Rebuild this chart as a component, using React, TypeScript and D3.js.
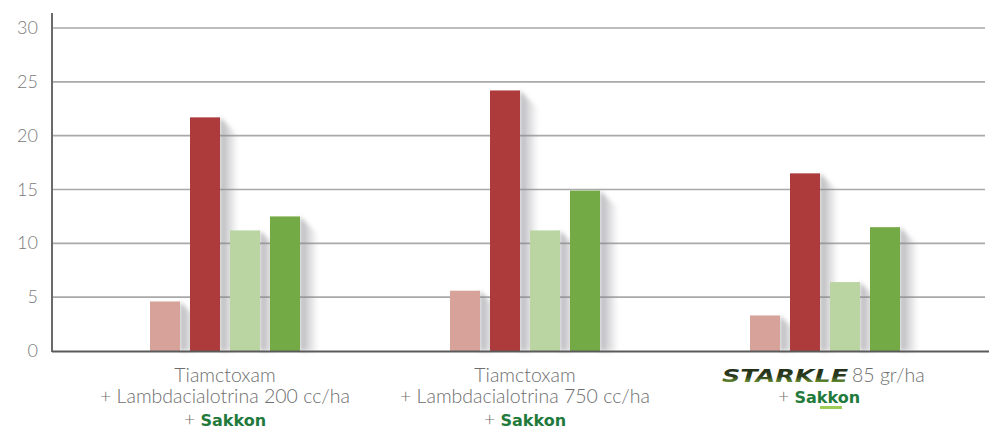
import React from "react";
import * as d3 from "d3";

const groups = ["g1", "g2", "g3"];
const series = ["s1", "s2", "s3", "s4"];
const seriesColors = ["#d6a299", "#ae3b3b", "#bad4a2", "#74aa45"];
const values: number[][] = [
  [4.6, 21.7, 11.2, 12.5],
  [5.6, 24.2, 11.2, 14.9],
  [3.3, 16.5, 6.4, 11.5],
];
const yTicks = [0, 5, 10, 15, 20, 25, 30];

const W = 989;
const H = 430;
const axisX = 52;

export default function App() {
  const y = d3.scaleLinear().domain([0, 30]).range([351, 28]);
  const x0 = d3.scaleBand<string>().domain(groups).range([75, 975]).paddingInner(0).paddingOuter(0);
  const x1 = d3.scaleBand<string>().domain(series).range([75, 225]).paddingInner(0.25).paddingOuter(0);
  const bw = x1.bandwidth();
  const labelFont = "Lato, 'Open Sans', sans-serif";
  const sakkon = (
    <tspan fill="#1f7a3c" fontWeight={900} fontFamily="'DejaVu Sans', sans-serif" fontSize={16}>Sakkon</tspan>
  );
  return (
    <svg width={W} height={H} style={{ position: "absolute", left: 0, top: 0, background: "#fff" }}>
      <defs>
        <linearGradient id="shadowGrad" x1="0" x2="1" y1="0" y2="0">
          <stop offset="0" stopColor="#85858c" stopOpacity="0.6" />
          <stop offset="1" stopColor="#85858c" stopOpacity="0" />
        </linearGradient>
        <filter id="blur" x="-20%" y="-20%" width="140%" height="140%">
          <feGaussianBlur stdDeviation="2" />
        </filter>
        <linearGradient id="starkle" x1="0" x2="0" y1="0" y2="1">
          <stop offset="0" stopColor="#1c2a16" />
          <stop offset="0.55" stopColor="#2d3d1e" />
          <stop offset="1" stopColor="#8cc63f" />
        </linearGradient>
      </defs>
      {yTicks.filter((t) => t > 0).map((t) => (
        <line key={t} x1={axisX} x2={985} y1={y(t)} y2={y(t)} stroke="#a9a9a9" strokeWidth={1.6} />
      ))}
      {yTicks.map((t) => (
        <text key={"l" + t} x={38} y={y(t) + 6} textAnchor="end" fontFamily={labelFont} fontSize={18} fontWeight={300} fill="#7a7a7a">
          {t}
        </text>
      ))}
      {groups.map((g, gi) =>
        series.map((s, si) => {
          const bx = (x0(g) as number) + (x1(s) as number);
          const top = y(values[gi][si]);
          const base = y(0);
          const d = 18;
          return (
            <polygon
              key={"sh" + g + s}
              points={`${bx + bw},${top} ${bx + bw + d},${top + d} ${bx + bw + d},${base} ${bx + bw},${base}`}
              fill="url(#shadowGrad)"
              filter="url(#blur)"
            />
          );
        })
      )}
      {groups.map((g, gi) =>
        series.map((s, si) => {
          const bx = (x0(g) as number) + (x1(s) as number);
          const top = y(values[gi][si]);
          return (
            <rect key={"b" + g + s} x={bx} y={top} width={bw} height={y(0) - top} fill={seriesColors[si]} />
          );
        })
      )}
      <line x1={axisX} x2={axisX} y1={13} y2={352} stroke="#6a6a6a" strokeWidth={2} />
      <line x1={axisX} x2={989} y1={351.5} y2={351.5} stroke="#5a5a5a" strokeWidth={2.2} />
      {[0, 1].map((gi) => {
        const cx = (x0(groups[gi]) as number) + 150;
        const dose = gi === 0 ? "200" : "750";
        return (
          <g key={"cl" + gi} fontFamily={labelFont} fontSize={19.5} fill="#6e6e6e" fontWeight={300} textAnchor="middle">
            <text x={cx} y={382}>Tiamctoxam</text>
            <text x={cx} y={403}>{`+ Lambdacialotrina ${dose} cc/ha`}</text>
            <text x={cx} y={426}>
              <tspan>+ </tspan>
              {sakkon}
            </text>
          </g>
        );
      })}
      {(() => {
        const cx = (x0(groups[2]) as number) + 150;
        return (
          <g fontFamily={labelFont} fontSize={19.5} fill="#6e6e6e" fontWeight={300}>
            <text x={722} y={382} fontFamily="'DejaVu Sans', sans-serif" fontWeight={900} fontStyle="italic" fontSize={18} fill="url(#starkle)" textLength={126} lengthAdjust="spacingAndGlyphs">
              STARKLE
            </text>
            <text x={852} y={382}>85 gr/ha</text>
            <text x={cx - 6} y={403} textAnchor="middle">
              <tspan>+ </tspan>
              {sakkon}
            </text>
            <rect x={820} y={406} width={22} height={3} fill="#9ccc55" />
          </g>
        );
      })()}
    </svg>
  );
}
